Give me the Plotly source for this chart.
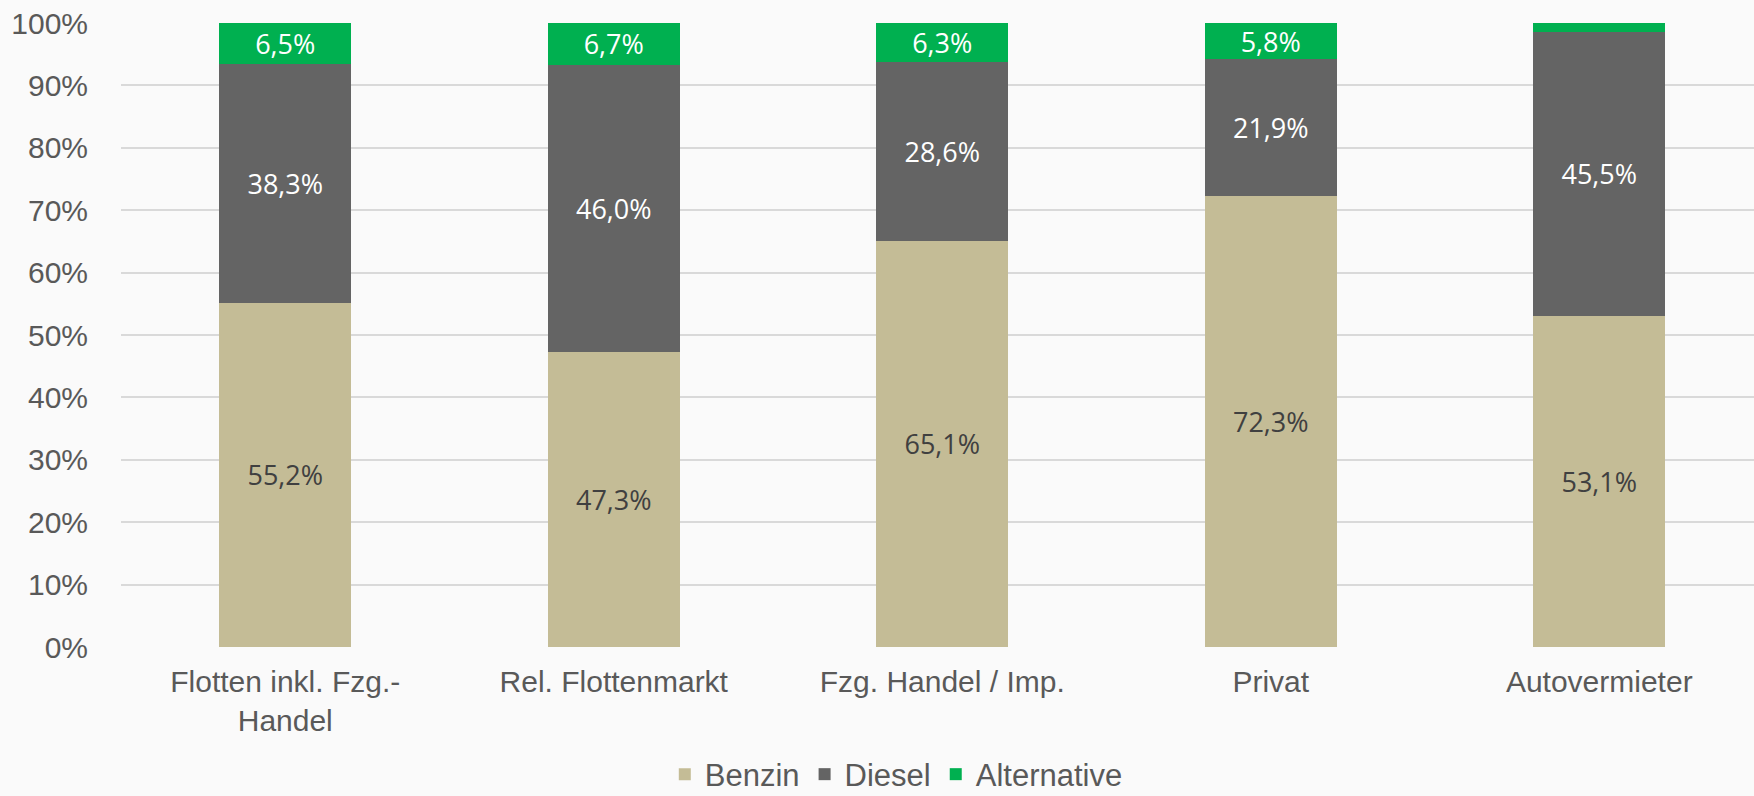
import plotly.graph_objects as go

categories = ["Flotten inkl. Fzg.-<br>Handel", "Rel. Flottenmarkt", "Fzg. Handel / Imp.", "Privat", "Autovermieter"]
benzin = [55.2, 47.3, 65.1, 72.3, 53.1]
diesel = [38.3, 46.0, 28.6, 21.9, 45.5]
alternative = [6.5, 6.7, 6.3, 5.8, 1.4]
alt_label_shown = [True, True, True, True, False]
y_ticks = [0, 10, 20, 30, 40, 50, 60, 70, 80, 90, 100]
y_ticklabels = [f"{v}%" for v in y_ticks]

series = [
    ("Benzin", benzin, "#C4BC96", "#404040", [True] * 5),
    ("Diesel", diesel, "#646464", "#FFFFFF", [True] * 5),
    ("Alternative", alternative, "#00B050", "#FFFFFF", alt_label_shown),
]

def fmt(v):
    return f"{v:.1f}".replace(".", ",") + "%"

x = list(range(len(categories)))
label_font = "Open Sans, Noto Sans, sans-serif"
axis_font = "Liberation Sans, Arial, sans-serif"

fig = go.Figure()
for name, vals, color, tcolor, shown in series:
    fig.add_trace(go.Bar(
        x=x, y=vals, name=name, marker=dict(color=color, line=dict(width=0)),
        text=[fmt(v) if s else "" for v, s in zip(vals, shown)],
        textposition="inside", insidetextanchor="middle",
        textfont=dict(family=label_font, size=27, color=tcolor), constraintext="none",
        width=0.402, showlegend=False, hoverinfo="skip",
    ))
for name, vals, color, tcolor, shown in series:
    fig.add_trace(go.Scatter(
        x=[None], y=[None], mode="markers", name=name,
        marker=dict(symbol="square", size=16, color=color, line=dict(width=0)),
        showlegend=True,
    ))

fig.update_layout(
    barmode="stack",
    width=1754, height=796,
    margin=dict(l=121, r=0, t=23, b=149),
    paper_bgcolor="#FAFAFA", plot_bgcolor="#FAFAFA",
    font=dict(family=axis_font, color="#595959", size=30),
    showlegend=True,
    legend=dict(orientation="h", x=0.511, xanchor="center", xref="container",
                y=0.027, yanchor="middle", yref="container",
                font=dict(family=axis_font, size=31, color="#595959"),
                itemsizing="constant", traceorder="normal", tracegroupgap=0,
                itemwidth=30, bgcolor="rgba(0,0,0,0)"),
    xaxis=dict(
        tickmode="array", tickvals=x, ticktext=categories,
        range=[-0.5, 4.471], showgrid=False, zeroline=False, showline=False,
        ticks="outside", ticklen=8, tickcolor="rgba(0,0,0,0)",
        tickfont=dict(family=axis_font, size=30, color="#595959"),
        automargin=False,
    ),
    yaxis=dict(
        range=[0, 100], tickmode="array", tickvals=y_ticks, ticktext=y_ticklabels,
        showgrid=True, gridcolor="#D9D9D9", gridwidth=1.5, zeroline=False, showline=False,
        ticks="outside", ticklen=26, tickcolor="rgba(0,0,0,0)",
        tickfont=dict(family=axis_font, size=30, color="#595959"),
        automargin=False,
    ),
    bargap=0.598,
)

fig.write_html(
    "out.html",
    config={"displayModeBar": False},
    post_script="document.body.style.margin='0';document.body.style.padding='0';"
                "document.body.style.background='#FAFAFA';document.body.style.overflow='hidden';",
)
